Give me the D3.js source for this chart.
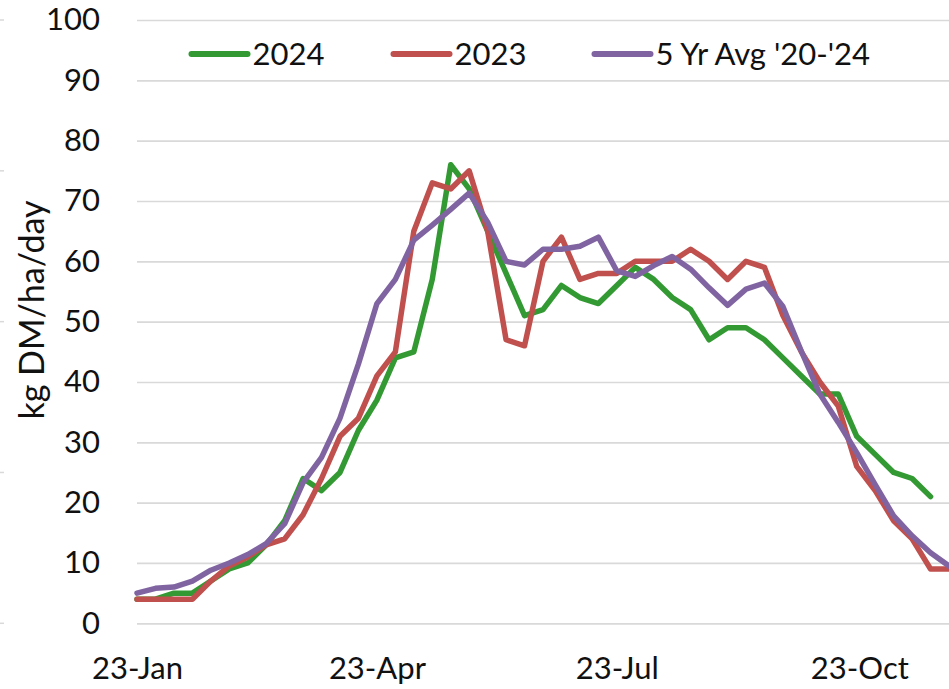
<!doctype html>
<html lang="en">
  <head>
    <meta charset="utf-8">
    <title>Pasture Growth</title>
    <style>
      body { margin: 0; background: #fff; }
      svg text { font-family: Lato, "Open Sans", sans-serif; fill: #111; }
    </style>
  </head>
  <body>
    <div id="chart"></div>
    <script src="https://d3js.org/d3.v7.min.js"></script>
    <script>
    // weekly readings starting 23-Jan
    var startDate = "2024-01-23";
    var yTicks = [0, 10, 20, 30, 40, 50, 60, 70, 80, 90, 100];
    var xTickDates = ["2024-01-23", "2024-04-23", "2024-07-23", "2024-10-23"];
    var seriesNames = ["2024", "2023", "5 Yr Avg '20-'24"];

    var growth2024 = [4, 4, 5, 5, 7, 9, 10, 13, 17, 24, 22, 25, 32, 37, 44, 45, 57, 76, 72, 65,
      58, 51, 52, 56, 54, 53, 56, 59, 57, 54, 52, 47, 49, 49, 47, 44, 41, 38, 38, 31,
      28, 25, 24, 21];
    var growth2023 = [4, 4, 4, 4, 7, 9.5, 11, 13, 14, 18, 24, 31, 34, 41, 45, 65, 73, 72, 75, 65,
      47, 46, 60, 64, 57, 58, 58, 60, 60, 60, 62, 60, 57, 60, 59, 51, 45, 40, 36, 26,
      22, 17, 14, 9, 9];
    var growthAvg = [5, 5.8, 6, 7, 8.8, 10, 11.4, 13.2, 16.5, 23.3, 27.5, 34, 43, 53, 57, 63.5, 66, 68.6, 71.3, 66.5,
      60, 59.4, 62, 62, 62.5, 64, 58.4, 57.5, 59.3, 60.8, 58.7, 55.6, 52.7, 55.4, 56.4, 52.5, 45.1, 38, 33.3, 28.3,
      23, 17.8, 14.5, 11.7, 9.5];

    var colors = ["#339a33", "#c0504d", "#8064a2"];

    var width = 949, height = 689;
    var svg = d3.select("#chart")
        .append("svg")
        .attr("width", width)
        .attr("height", height);

    var parse = d3.timeParse("%Y-%m-%d");
    var t0 = parse(startDate);

    var x = d3.scaleTime()
        .domain([t0, d3.timeDay.offset(t0, 308)])
        .range([137, 949]);

    var y = d3.scaleLinear()
        .domain([0, 100])
        .range([623.3, 20]);

    function toPoints(values) {
      return values.map(function(v, i){ return {date: d3.timeWeek.offset(t0, i), value: v}; });
    }

    // odd little marks down the left edge
    svg.append("g")
        .selectAll("line")
        .data([0, 25, 50, 75, 100])
        .join("line")
        .attr("x1", 0).attr("x2", 4)
        .attr("y1", function(d){ return y(d); })
        .attr("y2", function(d){ return y(d); })
        .attr("stroke", "#d9d9d9")
        .attr("stroke-width", 1.5);

    // gridlines + y labels
    var yAxis = svg.append("g")
        .attr("transform", "translate(137,0)")
        .call(d3.axisLeft(y).tickValues(yTicks).tickSize(-(949 - 137)).tickPadding(37));
    yAxis.select(".domain").remove();
    yAxis.selectAll(".tick line").attr("stroke", "#d9d9d9").attr("stroke-width", 1.7);
    yAxis.selectAll(".tick text")
        .attr("font-size", 31)
        .attr("font-family", null)
        .attr("fill", null);

    // x labels
    var xAxis = svg.append("g")
        .attr("transform", "translate(0,623.3)")
        .call(d3.axisBottom(x)
          .tickValues(xTickDates.map(parse))
          .tickFormat(d3.timeFormat("%d-%b"))
          .tickSize(0)
          .tickPadding(34));
    xAxis.select(".domain").remove();
    xAxis.selectAll(".tick text")
        .attr("font-size", 31)
        .attr("font-family", null)
        .attr("fill", null);

    svg.append("text")
        .attr("transform", "translate(44,310) rotate(-90)")
        .attr("text-anchor", "middle")
        .attr("font-size", 34)
        .text("kg DM/ha/day");

    var line = d3.line()
        .x(function(d){ return x(d.date); })
        .y(function(d){ return y(d.value); });

    var allSeries = [growth2024, growth2023, growthAvg];

    svg.append("g")
        .selectAll("path")
        .data(allSeries)
        .join("path")
        .attr("d", function(d){ return line(toPoints(d)); })
        .attr("fill", "none")
        .attr("stroke", function(d, i){ return colors[i]; })
        .attr("stroke-width", 5.5)
        .attr("stroke-linejoin", "round")
        .attr("stroke-linecap", "round");

    // legend
    var legendX = [191.5, 393.5, 594.5];
    var legend = svg.append("g")
        .selectAll("g")
        .data(seriesNames)
        .join("g")
        .attr("transform", function(d, i){ return "translate(" + legendX[i] + ",54)"; });
    legend.append("line")
        .attr("x1", 0).attr("x2", 56)
        .attr("stroke", function(d, i){ return colors[i]; })
        .attr("stroke-width", 6)
        .attr("stroke-linecap", "round");
    legend.append("text")
        .attr("x", 61)
        .attr("y", 11)
        .attr("font-size", 31)
        .text(function(d){ return d; });
    </script>
  </body>
</html>
